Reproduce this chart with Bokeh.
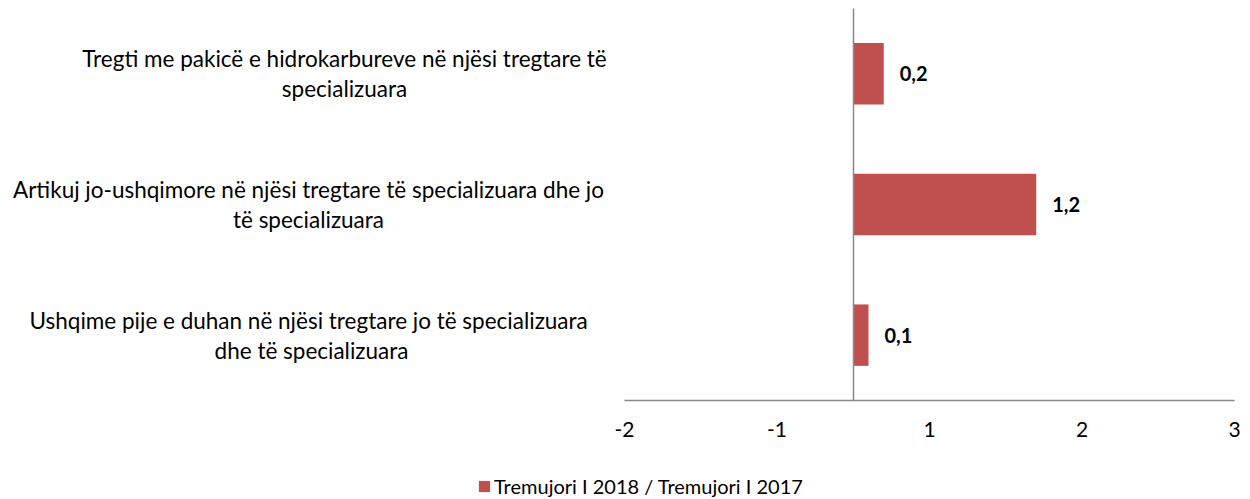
from bokeh.plotting import figure
from bokeh.models import (ColumnDataSource, Range1d, LinearAxis, FixedTicker,
                          Legend, LegendItem)
from bokeh.core.properties import value
from bokeh.embed import file_html
from bokeh.resources import INLINE

# ---- data ----
categories = [
    "Ushqime pije e duhan në njësi tregtare  jo të specializuara\ndhe të specializuara",
    "Artikuj jo-ushqimore në njësi tregtare të specializuara dhe jo\ntë specializuara",
    "Tregti me pakicë e hidrokarbureve në njësi tregtare të\nspecializuara",
]
values = [0.1, 1.2, 0.2]
value_labels = ["0,1", "1,2", "0,2"]
tick_values = [-1.5, -0.5, 0.5, 1.5, 2.5]
tick_labels = ["-2", "-1", "1", "2", "3"]
series_name = "Tremujori I 2018 / Tremujori I 2017"

FONT = "Lato"
BAR = "#C0504D"
AXIS = "#898989"

# pixel geometry of the reference (zero line at 852.75px, 152.5px per unit)
X0, XS = 852.75, 152.5
Y0, YS = 400.0, 130.67
W, H = 1250, 499

ypos = [i + 0.5 for i in range(len(categories))]
src = ColumnDataSource(dict(y=ypos, v=values, lab=value_labels))

p = figure(width=W, height=H, output_backend="svg", toolbar_location=None,
           x_range=Range1d(-X0 / XS, (W - X0) / XS),
           y_range=Range1d(-(H - Y0) / YS, Y0 / YS),
           x_axis_type=None, y_axis_type=None,
           min_border_left=0, min_border_right=0, min_border_top=0,
           min_border_bottom=0)
p.outline_line_color = None
p.grid.visible = False
p.background_fill_color = "white"

bars = p.hbar(y="y", left=0, right="v", height=0.47, source=src,
              fill_color=BAR, line_color=None)

p.text(x="v", y="y", text="lab", source=src, x_offset=16,
       text_font=value(FONT), text_font_style="bold", text_font_size="20px",
       text_align="left", text_baseline="middle", text_color="black")

# category labels (centred lines, block to the left of the plot)
label_center_px = [311, 308, 344]
src2 = ColumnDataSource(dict(x=[(px - X0) / XS for px in label_center_px],
                             y=ypos, cat=categories))
p.text(x="x", y="y", text="cat", source=src2,
       text_font=value(FONT), text_font_size="22.5px", text_align="center",
       text_baseline="middle", text_color="black", text_line_height=1.12)

# vertical zero axis
yaxis = LinearAxis(fixed_location=0, bounds=(0, 3), ticker=FixedTicker(ticks=[]))
yaxis.axis_line_color = AXIS
yaxis.axis_line_width = 1.5
yaxis.major_tick_line_color = None
yaxis.minor_tick_line_color = None
yaxis.major_label_text_font_size = "0px"
p.add_layout(yaxis, "left")

# horizontal category axis
xaxis = LinearAxis(fixed_location=0, ticker=FixedTicker(ticks=tick_values),
                   major_label_overrides={t: l for t, l in zip(tick_values, tick_labels)},
                   bounds=(-1.5, 2.5))
xaxis.axis_line_color = AXIS
xaxis.axis_line_width = 1.5
xaxis.major_tick_line_color = None
xaxis.minor_tick_line_color = None
xaxis.major_tick_out = 0
xaxis.major_tick_in = 0
xaxis.major_label_standoff = 21
xaxis.major_label_text_font = FONT
xaxis.major_label_text_font_size = "21px"
xaxis.major_label_text_color = "black"
p.add_layout(xaxis, "below")

legend = Legend(items=[LegendItem(label=series_name, renderers=[bars])],
                location=(477, 1), orientation="horizontal",
                label_text_font=FONT, label_text_font_size="20px",
                label_text_color="black", glyph_width=14, glyph_height=14,
                label_height=20, padding=0, margin=0, label_standoff=3,
                border_line_color=None, background_fill_alpha=0)
p.add_layout(legend, "center")

open("out.html", "w").write(file_html(p, INLINE))
